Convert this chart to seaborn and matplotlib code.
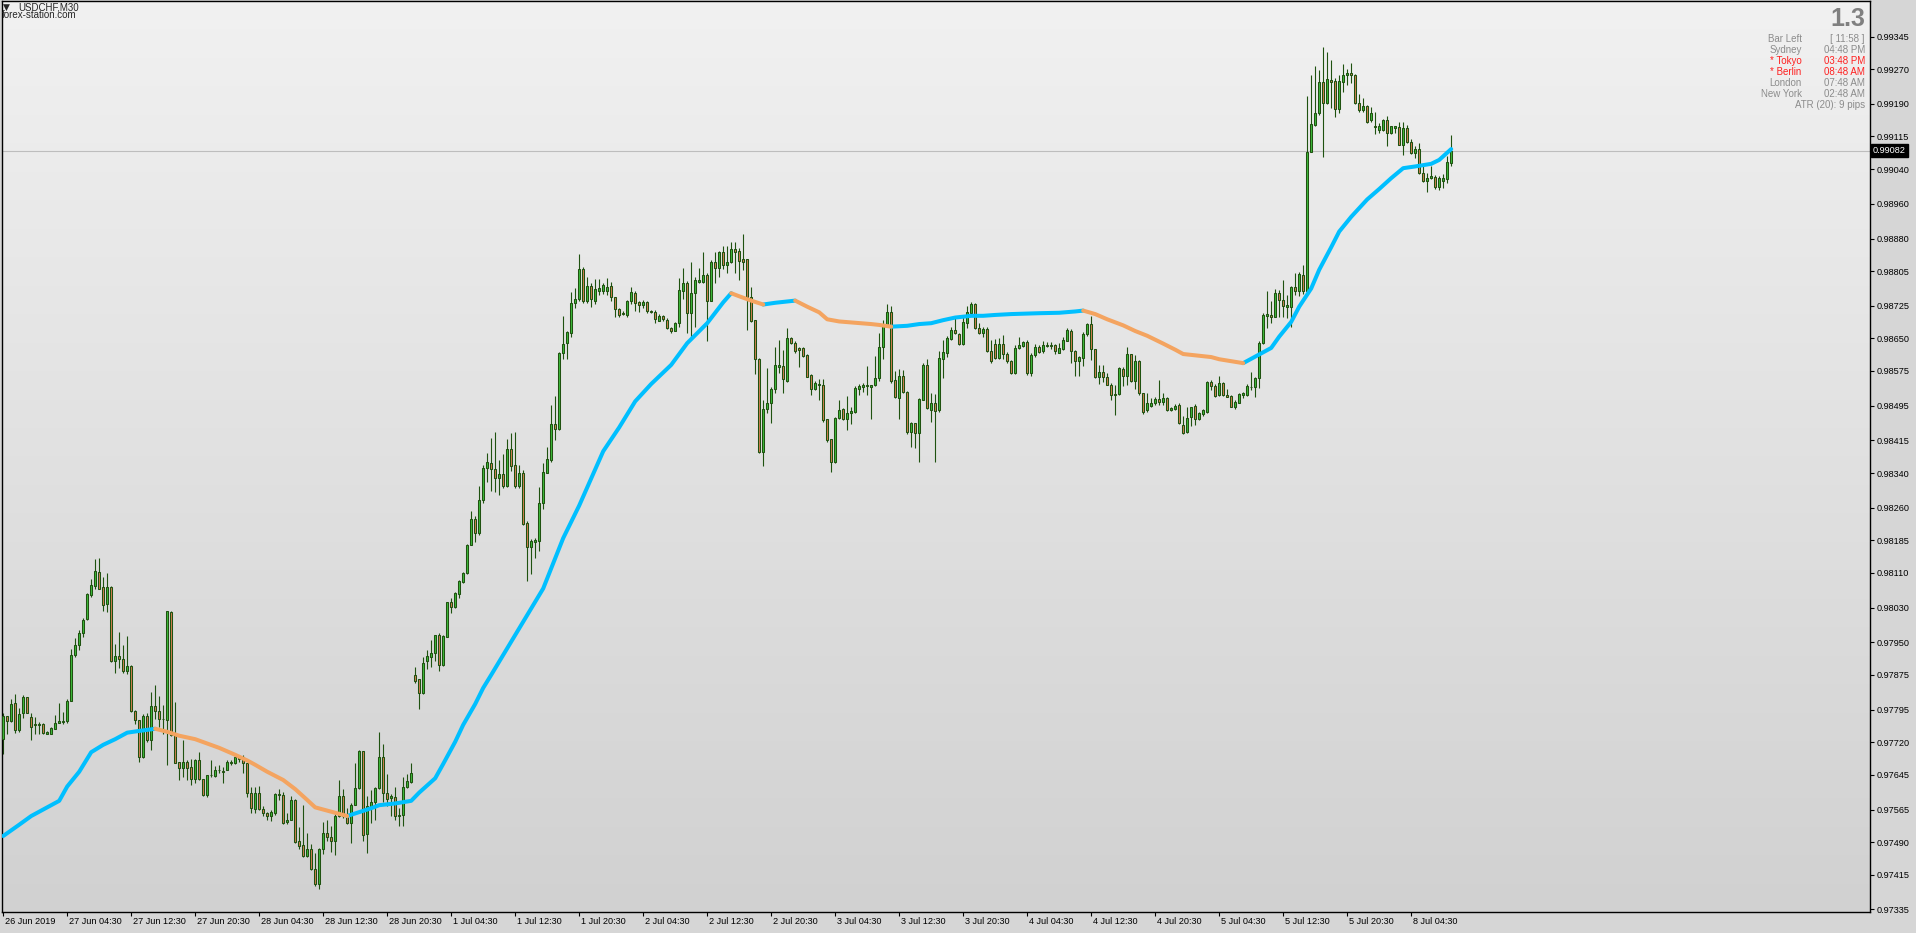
import numpy as np
import pandas as pd
import matplotlib
matplotlib.use("Agg")
import matplotlib.pyplot as plt
import matplotlib.transforms as mtransforms
from matplotlib.colors import LinearSegmentedColormap
import seaborn as sns

W, H = 1916, 933

# USDCHF M30 quotes, stored as points above 0.97000 (1 point = 0.00001)
BASE = 0.97
POINT = 0.00001

OPEN_PTS = [
    727, 780, 770, 810, 747, 787, 823, 777, 762, 760,
    762, 740, 740, 751, 765, 767, 770, 816, 920, 943,
    971, 1003, 1060, 1080, 1112, 1077, 1038, 1077, 906, 919,
    911, 885, 896, 793, 771, 687, 780, 724, 803, 793,
    774, 771, 1020, 736, 674, 661, 674, 662, 635, 679,
    635, 598, 644, 642, 656, 653, 656, 673, 671, 685,
    687, 671, 604, 566, 604, 566, 558, 549, 558, 601,
    598, 537, 541, 587, 492, 483, 458, 473, 429, 393,
    473, 512, 501, 492, 549, 595, 549, 533, 576, 614,
    699, 508, 573, 583, 614, 687, 604, 591, 593, 549,
    552, 618, 629, 874, 865, 833, 906, 917, 926, 966,
    897, 963, 1042, 1031, 1061, 1089, 1109, 1175, 1233, 1201,
    1278, 1351, 1362, 1349, 1328, 1337, 1309, 1395, 1358, 1311,
    1339, 1224, 1170, 1180, 1184, 1270, 1341, 1369, 1452, 1442,
    1616, 1639, 1663, 1731, 1740, 1809, 1735, 1771, 1737, 1760,
    1759, 1758, 1771, 1745, 1717, 1708, 1703, 1736, 1754, 1733,
    1726, 1733, 1713, 1711, 1691, 1702, 1693, 1674, 1668, 1685,
    1760, 1778, 1708, 1754, 1781, 1781, 1795, 1737, 1825, 1812,
    1849, 1818, 1827, 1855, 1851, 1832, 1832, 1746, 1692, 1602,
    1389, 1487, 1502, 1533, 1585, 1587, 1553, 1650, 1640, 1627,
    1627, 1611, 1565, 1533, 1542, 1542, 1464, 1418, 1366, 1466,
    1487, 1464, 1478, 1481, 1534, 1539, 1541, 1537, 1542, 1558,
    1631, 1683, 1710, 1554, 1512, 1564, 1526, 1435, 1455, 1433,
    1508, 1588, 1485, 1501, 1485, 1603, 1617, 1648, 1670, 1660,
    1637, 1686, 1709, 1729, 1673, 1662, 1671, 1620, 1637, 1605,
    1637, 1613, 1597, 1570, 1627, 1633, 1642, 1571, 1611, 1630,
    1620, 1633, 1634, 1634, 1617, 1625, 1645, 1668, 1621, 1599,
    1605, 1659, 1682, 1625, 1560, 1572, 1562, 1543, 1519, 1521,
    1579, 1564, 1613, 1553, 1598, 1524, 1484, 1494, 1501, 1510,
    1504, 1512, 1484, 1487, 1496, 1451, 1435, 1468, 1494, 1464,
    1476, 1481, 1549, 1540, 1520, 1548, 1519, 1517, 1491, 1502,
    1519, 1520, 1539, 1537, 1558, 1639, 1702, 1704, 1700, 1754,
    1739, 1723, 1722, 1769, 1759, 1795, 1758, 2080, 2142, 2168,
    2241, 2191, 2245, 2243, 2179, 2241, 2256, 2261, 2256, 2191,
    2175, 2185, 2152, 2139, 2129, 2130, 2153, 2122, 2135, 2136,
    2096, 2135, 2102, 2078, 2086, 2030, 2013, 2020, 2021, 1998,
    2013, 2016, 2055,
]

HIGH_PTS = [
    787, 781, 819, 831, 798, 828, 825, 788, 779, 767,
    765, 745, 756, 783, 810, 790, 819, 934, 959, 979,
    1005, 1064, 1097, 1143, 1144, 1101, 1109, 1079, 946, 974,
    944, 965, 897, 794, 772, 784, 787, 836, 851, 826,
    805, 1023, 1022, 813, 675, 725, 679, 682, 682, 698,
    636, 645, 679, 665, 667, 664, 679, 679, 690, 691,
    691, 673, 618, 618, 619, 572, 560, 564, 602, 612,
    606, 558, 595, 589, 525, 576, 510, 486, 466, 476,
    537, 542, 526, 560, 633, 612, 568, 579, 671, 702,
    700, 595, 610, 618, 744, 716, 647, 601, 616, 568,
    639, 647, 671, 894, 866, 916, 932, 955, 968, 971,
    966, 1043, 1052, 1067, 1094, 1113, 1177, 1253, 1240, 1309,
    1359, 1385, 1420, 1434, 1370, 1384, 1418, 1433, 1435, 1359,
    1346, 1230, 1189, 1190, 1307, 1364, 1401, 1497, 1517, 1619,
    1702, 1668, 1757, 1766, 1845, 1814, 1792, 1777, 1786, 1786,
    1777, 1788, 1780, 1746, 1719, 1712, 1739, 1768, 1759, 1737,
    1739, 1735, 1716, 1716, 1706, 1704, 1696, 1677, 1688, 1788,
    1812, 1783, 1825, 1792, 1811, 1849, 1800, 1831, 1849, 1852,
    1863, 1863, 1871, 1871, 1858, 1891, 1833, 1768, 1693, 1604,
    1508, 1581, 1539, 1631, 1646, 1623, 1673, 1653, 1643, 1631,
    1631, 1614, 1567, 1551, 1557, 1557, 1465, 1419, 1468, 1508,
    1489, 1518, 1491, 1541, 1544, 1548, 1587, 1543, 1610, 1662,
    1693, 1729, 1725, 1576, 1579, 1577, 1529, 1458, 1456, 1512,
    1594, 1603, 1524, 1522, 1622, 1646, 1656, 1676, 1702, 1663,
    1699, 1725, 1734, 1731, 1686, 1676, 1676, 1646, 1648, 1650,
    1658, 1619, 1600, 1635, 1654, 1645, 1646, 1616, 1637, 1635,
    1643, 1642, 1642, 1637, 1639, 1654, 1673, 1671, 1623, 1610,
    1665, 1686, 1702, 1626, 1589, 1589, 1571, 1547, 1543, 1585,
    1583, 1630, 1614, 1612, 1600, 1525, 1524, 1512, 1514, 1554,
    1525, 1514, 1493, 1499, 1501, 1471, 1491, 1493, 1499, 1481,
    1487, 1553, 1554, 1545, 1564, 1550, 1533, 1520, 1508, 1524,
    1527, 1544, 1573, 1562, 1643, 1708, 1758, 1735, 1763, 1762,
    1785, 1750, 1771, 1801, 1804, 1819, 2208, 2257, 2278, 2268,
    2320, 2310, 2291, 2249, 2257, 2282, 2270, 2284, 2258, 2212,
    2203, 2187, 2184, 2172, 2147, 2156, 2162, 2139, 2139, 2149,
    2149, 2142, 2110, 2092, 2099, 2049, 2030, 2047, 2026, 2023,
    2029, 2069, 2119,
]

LOW_PTS = [
    694, 739, 767, 742, 744, 775, 787, 724, 739, 738,
    739, 739, 739, 750, 764, 762, 764, 814, 917, 932,
    963, 1002, 1054, 1074, 1073, 1023, 1020, 905, 879, 891,
    880, 876, 790, 762, 675, 684, 721, 701, 774, 756,
    740, 668, 734, 672, 632, 639, 633, 621, 627, 633,
    596, 593, 639, 639, 648, 627, 655, 668, 670, 675,
    648, 593, 556, 558, 564, 550, 541, 539, 552, 587,
    532, 532, 540, 489, 473, 455, 455, 426, 389, 381,
    462, 492, 467, 460, 548, 545, 532, 487, 575, 612,
    492, 466, 535, 541, 612, 583, 572, 550, 541, 527,
    526, 614, 627, 856, 796, 830, 888, 894, 908, 885,
    896, 962, 1017, 1028, 1051, 1086, 1108, 1174, 1182, 1197,
    1272, 1320, 1299, 1297, 1289, 1305, 1307, 1345, 1306, 1305,
    1220, 1092, 1108, 1144, 1161, 1256, 1340, 1366, 1416, 1439,
    1602, 1603, 1653, 1719, 1737, 1732, 1732, 1722, 1729, 1750,
    1752, 1750, 1735, 1700, 1699, 1703, 1700, 1729, 1714, 1711,
    1719, 1709, 1708, 1685, 1689, 1691, 1671, 1663, 1666, 1676,
    1740, 1663, 1653, 1676, 1778, 1777, 1643, 1735, 1777, 1791,
    1809, 1801, 1823, 1801, 1785, 1808, 1669, 1688, 1568, 1387,
    1355, 1478, 1456, 1524, 1570, 1524, 1550, 1637, 1616, 1584,
    1608, 1561, 1520, 1531, 1508, 1458, 1412, 1343, 1364, 1464,
    1462, 1438, 1452, 1478, 1520, 1527, 1520, 1464, 1541, 1551,
    1602, 1681, 1548, 1512, 1464, 1524, 1430, 1401, 1397, 1366,
    1507, 1487, 1458, 1366, 1481, 1558, 1607, 1647, 1660, 1634,
    1634, 1673, 1708, 1671, 1660, 1653, 1619, 1593, 1603, 1603,
    1603, 1594, 1568, 1568, 1625, 1630, 1566, 1563, 1608, 1616,
    1617, 1630, 1626, 1614, 1616, 1623, 1643, 1594, 1564, 1564,
    1587, 1656, 1600, 1558, 1545, 1550, 1542, 1508, 1474, 1519,
    1540, 1543, 1550, 1534, 1520, 1476, 1481, 1491, 1497, 1497,
    1497, 1482, 1482, 1484, 1453, 1430, 1433, 1448, 1451, 1462,
    1471, 1479, 1530, 1516, 1517, 1517, 1514, 1491, 1487, 1501,
    1512, 1517, 1531, 1514, 1535, 1637, 1673, 1686, 1699, 1700,
    1700, 1696, 1677, 1750, 1748, 1752, 1754, 2079, 2139, 2165,
    2067, 2190, 2180, 2161, 2168, 2218, 2234, 2238, 2190, 2172,
    2172, 2147, 2149, 2121, 2122, 2128, 2092, 2121, 2122, 2095,
    2073, 2101, 2075, 2065, 2029, 2011, 1988, 2018, 1993, 1992,
    1996, 2007, 2046,
]

CLOSE_PTS = [
    780, 770, 808, 747, 785, 825, 788, 756, 759, 762,
    742, 744, 753, 765, 768, 768, 816, 920, 943, 971,
    1002, 1061, 1081, 1114, 1074, 1037, 1078, 906, 919, 911,
    885, 896, 793, 771, 687, 780, 724, 803, 793, 774,
    773, 1022, 736, 673, 661, 674, 661, 635, 679, 635,
    598, 644, 645, 656, 655, 651, 674, 674, 687, 682,
    671, 604, 568, 604, 566, 558, 549, 559, 601, 598,
    535, 542, 587, 491, 481, 458, 473, 427, 394, 473,
    512, 501, 492, 549, 595, 549, 533, 576, 614, 699,
    506, 573, 583, 614, 687, 602, 589, 595, 549, 552,
    618, 630, 648, 860, 833, 903, 919, 926, 966, 897,
    965, 1042, 1031, 1063, 1091, 1109, 1175, 1233, 1201, 1278,
    1351, 1365, 1349, 1328, 1337, 1309, 1395, 1355, 1311, 1339,
    1223, 1170, 1183, 1186, 1270, 1342, 1372, 1452, 1442, 1616,
    1636, 1665, 1731, 1740, 1809, 1735, 1771, 1740, 1763, 1766,
    1772, 1768, 1745, 1717, 1705, 1706, 1736, 1757, 1732, 1726,
    1733, 1712, 1710, 1694, 1702, 1694, 1673, 1668, 1685, 1762,
    1778, 1709, 1754, 1785, 1785, 1795, 1737, 1825, 1812, 1849,
    1818, 1827, 1857, 1850, 1828, 1827, 1746, 1689, 1602, 1389,
    1487, 1501, 1533, 1588, 1589, 1556, 1650, 1639, 1620, 1624,
    1610, 1562, 1533, 1547, 1545, 1462, 1416, 1366, 1466, 1485,
    1464, 1478, 1482, 1535, 1541, 1542, 1542, 1542, 1558, 1630,
    1683, 1710, 1551, 1514, 1564, 1527, 1435, 1455, 1433, 1510,
    1588, 1489, 1501, 1483, 1604, 1619, 1650, 1670, 1662, 1637,
    1688, 1710, 1729, 1673, 1662, 1671, 1620, 1599, 1605, 1637,
    1613, 1597, 1570, 1627, 1635, 1642, 1570, 1611, 1630, 1619,
    1634, 1634, 1633, 1620, 1627, 1646, 1669, 1620, 1599, 1607,
    1660, 1682, 1625, 1560, 1572, 1560, 1543, 1519, 1522, 1582,
    1564, 1613, 1553, 1598, 1524, 1481, 1501, 1501, 1510, 1504,
    1512, 1484, 1489, 1494, 1455, 1433, 1466, 1491, 1464, 1478,
    1484, 1549, 1540, 1517, 1548, 1519, 1516, 1493, 1504, 1521,
    1525, 1540, 1537, 1558, 1639, 1704, 1706, 1700, 1754, 1739,
    1725, 1727, 1768, 1759, 1798, 1758, 2080, 2144, 2168, 2241,
    2191, 2247, 2241, 2179, 2243, 2256, 2261, 2256, 2191, 2175,
    2185, 2149, 2168, 2137, 2139, 2153, 2122, 2138, 2138, 2096,
    2135, 2103, 2078, 2086, 2030, 2013, 2020, 2023, 1998, 2020,
    2020, 2056, 2082,
]

# moving average, read at selected bars
MA_BARS = [
    0, 4, 7, 10, 14, 16, 19, 22, 25, 28, 31, 34, 38, 41, 44, 48, 51, 54, 58, 61,
    63, 66, 70, 73, 76, 78, 82, 84, 86, 89, 92, 94, 98, 102, 104, 108, 110, 113,
    115, 118, 120, 122, 135, 140, 144, 150, 154, 158, 162, 167, 171, 176, 180,
    182, 184, 187, 190, 193, 196, 198, 201, 204, 206, 209, 213, 217, 219, 222,
    226, 229, 232, 235, 238, 242, 245, 248, 252, 259, 264, 268, 270, 273, 276,
    280, 283, 286, 290, 293, 295, 298, 302, 304, 310, 312, 317, 319, 322, 324,
    327, 329, 332, 334, 337, 341, 344, 347, 350, 353, 357, 359, 362,
]
MA_PTS = [
    504, 530, 550, 565, 585, 618, 652, 697, 714, 727, 742, 746, 751, 744, 735, 727, 717, 707, 691, 678,
    668, 652, 633, 612, 587, 570, 560, 555, 550, 559, 568, 575, 579, 585, 604, 637, 670, 721,
    760, 808, 845, 875, 1074, 1190, 1265, 1390, 1445, 1505, 1545, 1589, 1639, 1685, 1733,
    1754, 1747, 1737, 1728, 1732, 1735, 1737, 1723, 1710, 1694, 1689, 1686, 1683, 1681, 1677,
    1679, 1683, 1685, 1692, 1698, 1702, 1702, 1704, 1706, 1708, 1709, 1712, 1714, 1706, 1694,
    1680, 1667, 1656, 1638, 1624, 1614, 1611, 1607, 1602, 1593, 1603, 1628, 1654, 1688, 1723,
    1765, 1808, 1860, 1896, 1930, 1970, 1994, 2019, 2042, 2046, 2052, 2061, 2086,
]

TICK_BARS = [0, 16, 32, 48, 64, 80, 96, 112, 128, 144, 160, 176,
             192, 208, 224, 240, 256, 272, 288, 304, 320, 336, 352]
TICK_LABELS = ["26 Jun 2019", "27 Jun 04:30", "27 Jun 12:30", "27 Jun 20:30",
               "28 Jun 04:30", "28 Jun 12:30", "28 Jun 20:30", "1 Jul 04:30",
               "1 Jul 12:30", "1 Jul 20:30", "2 Jul 04:30", "2 Jul 12:30",
               "2 Jul 20:30", "3 Jul 04:30", "3 Jul 12:30", "3 Jul 20:30",
               "4 Jul 04:30", "4 Jul 12:30", "4 Jul 20:30", "5 Jul 04:30",
               "5 Jul 12:30", "5 Jul 20:30", "8 Jul 04:30"]

PRICE_TICKS = [0.99345, 0.99270, 0.99190, 0.99115, 0.99040, 0.98960, 0.98880,
               0.98805, 0.98725, 0.98650, 0.98575, 0.98495, 0.98415, 0.98340,
               0.98260, 0.98185, 0.98110, 0.98030, 0.97950, 0.97875, 0.97795,
               0.97720, 0.97645, 0.97565, 0.97490, 0.97415, 0.97335]
LAST_PRICE = 0.99082

SPREAD = "1.3"
PANEL_NAMES = ["Bar Left", "Sydney", "* Tokyo", "* Berlin", "London", "New York"]
PANEL_TIMES = ["[ 11:58 ]", "04:48 PM", "03:48 PM", "08:48 AM", "07:48 AM", "02:48 AM"]
PANEL_OPEN = [False, False, True, True, False, False]
ATR_TEXT = "ATR (20): 9 pips"

sns.set_style("white")
plt.rcParams["font.family"] = ["Liberation Sans", "DejaVu Sans"]


def to_price(pts):
    return BASE + np.asarray(pts, dtype=float) * POINT


o = to_price(OPEN_PTS)
h = to_price(HIGH_PTS)
l = to_price(LOW_PTS)
c = to_price(CLOSE_PTS)
bars = np.arange(len(c))

fig = plt.figure(figsize=(W / 100, H / 100), dpi=100, facecolor="#D6D6D6")
ax = fig.add_axes([2 / W, (H - 912) / H, 1868 / W, 911 / H])

y_top, y_bot = 0.99427, 0.97329
x_left, x_right = -0.3, 466.7

# window background gradient
bg = LinearSegmentedColormap.from_list("bg", ["#F1F1F1", "#D1D1D1"])
ax.imshow(np.linspace(0, 1, 256).reshape(-1, 1), cmap=bg, aspect="auto",
          extent=(x_left, x_right, y_bot, y_top), origin="upper", zorder=0)

ax.axhline(LAST_PRICE, color="#BDBDBD", lw=0.8, zorder=1)

# candles
edge = "#1F5210"
up = c >= o
ax.vlines(bars, l, h, color=edge, lw=0.8, zorder=2)
body_lo = np.minimum(o, c)
body_h = np.maximum(np.abs(c - o), 0.000012)
ax.bar(bars, body_h, bottom=body_lo, width=0.6,
       color=np.where(up, "#3DB83A", "#CF7E4F"), edgecolor=edge,
       linewidth=0.75, zorder=3)

# moving average coloured by direction
ma = to_price(MA_PTS)
rows = []
run, prev = 0, None
for i in range(len(ma) - 1):
    trend = "up" if ma[i + 1] >= ma[i] else "down"
    if trend != prev:
        run += 1
        rows.append((MA_BARS[i], ma[i], run, trend))
    rows.append((MA_BARS[i + 1], ma[i + 1], run, trend))
    prev = trend
df_ma = pd.DataFrame(rows, columns=["bar", "price", "run", "trend"])
sns.lineplot(data=df_ma, x="bar", y="price", hue="trend", units="run",
             estimator=None, sort=False,
             palette={"up": "#00BFFF", "down": "#F4A460"},
             linewidth=2.9, legend=False, ax=ax, zorder=4)

ax.set_xlim(x_left, x_right)
ax.set_ylim(y_bot, y_top)
ax.set_xlabel("")
ax.set_ylabel("")

ax.yaxis.tick_right()
ax.set_yticks(PRICE_TICKS)
ax.set_yticklabels([f"{v:.5f}" for v in PRICE_TICKS])
ax.tick_params(axis="y", direction="out", length=3, width=0.8, color="black",
               labelsize=6.6, pad=2, labelcolor="black", left=False, right=True)
ax.set_xticks(TICK_BARS)
ax.set_xticklabels([])
ax.tick_params(axis="x", direction="out", length=3, width=0.8, color="black",
               bottom=True)

xform = mtransforms.blended_transform_factory(ax.transData, ax.transAxes)
for b, lab in zip(TICK_BARS, TICK_LABELS):
    ax.text(b + 0.4, -9 / 911, lab, transform=xform, fontsize=6.6,
            va="center", ha="left", color="black")

for s in ax.spines.values():
    s.set_visible(True)
    s.set_color("black")
    s.set_linewidth(1.0)

yform = mtransforms.blended_transform_factory(ax.transAxes, ax.transData)
ax.text(1.0 + 3 / 1868, LAST_PRICE, f"{LAST_PRICE:.5f}", transform=yform,
        color="white", fontsize=6.6, va="center", ha="left",
        bbox=dict(boxstyle="square,pad=0.2", fc="black", ec="black"))

# title top-left
fig.text(3 / W, 1 - 7 / H, "\u25bc", fontsize=6.5, va="center", ha="left",
         family=["DejaVu Sans"])
fig.text(18 / W, 1 - 7.3 / H, "USDCHF,M30", fontsize=7, va="center", ha="left")
fig.text(2 / W, 1 - 15.5 / H, "forex-station.com", fontsize=7, va="center", ha="left")

# info panel top-right
gray, red = "#8C8C8C", "#FF2020"
fig.text(1865 / W, 1 - 19 / H, SPREAD, fontsize=18, fontweight="bold",
         color="#808080", ha="right", va="center")
row_y = [38.7, 50, 61, 71.7, 82.7, 93.7]
for y, name, t, is_open in zip(row_y, PANEL_NAMES, PANEL_TIMES, PANEL_OPEN):
    col = red if is_open else gray
    fig.text(1801.7 / W, 1 - y / H, name, fontsize=7, color=col, ha="right", va="center")
    fig.text(1865 / W, 1 - y / H, t, fontsize=7, color=col, ha="right", va="center")
fig.text(1865 / W, 1 - 105.3 / H, ATR_TEXT, fontsize=7, color=gray, ha="right", va="center")

fig.savefig("out.png", dpi=100, facecolor=fig.get_facecolor())
